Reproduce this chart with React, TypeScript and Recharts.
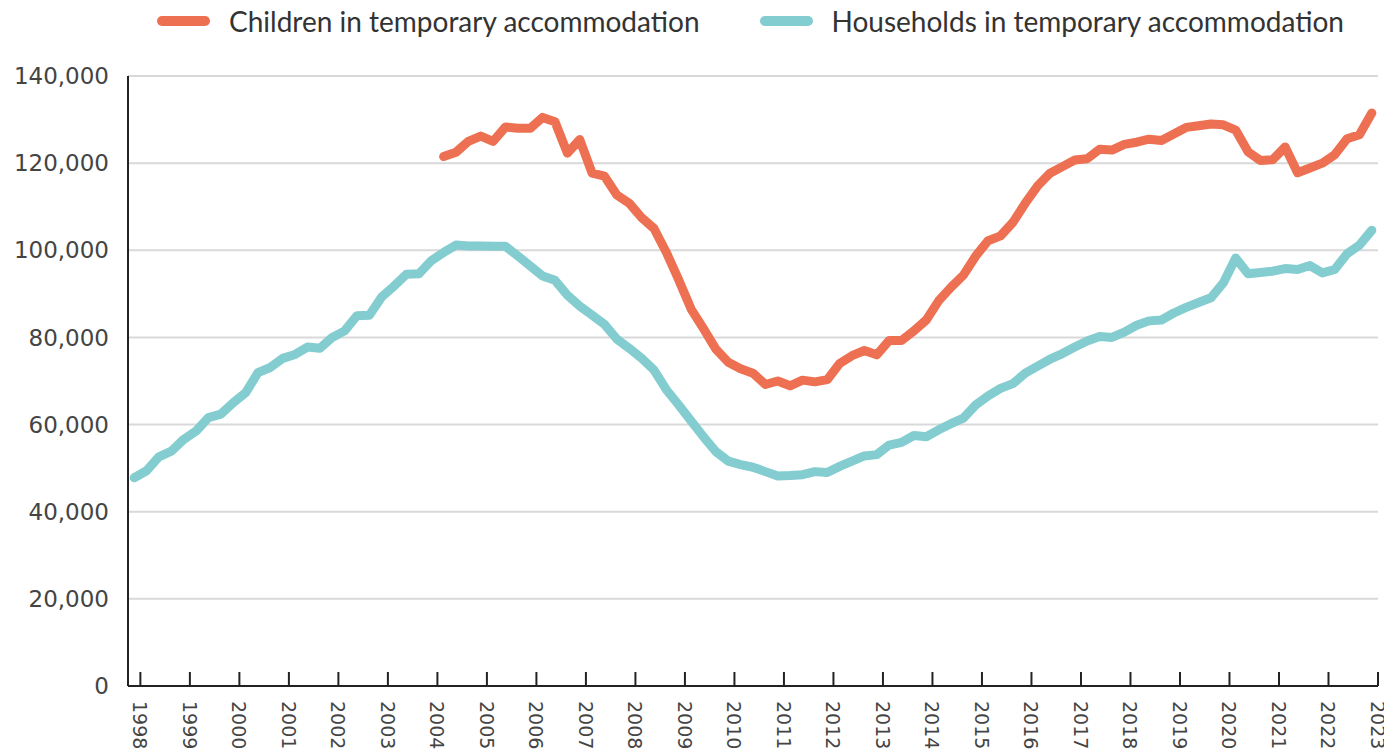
import { LineChart, Line, XAxis, YAxis, CartesianGrid } from "recharts";

// quarterly series, 1998 Q1 .. 2023 Q1 (values in thousands)
const YEARS = [
  1998, 1999, 2000, 2001, 2002, 2003, 2004, 2005, 2006, 2007, 2008, 2009, 2010,
  2011, 2012, 2013, 2014, 2015, 2016, 2017, 2018, 2019, 2020, 2021, 2022, 2023,
];

const HOUSEHOLDS = [
  47.8, 49.4, 52.6, 53.9, 56.6, 58.5, 61.6, 62.4, 65.0, 67.3, 71.9, 73.1, 75.2, 76.1, 77.8, 77.5,
  80.0, 81.5, 85.0, 85.1, 89.3, 91.8, 94.5, 94.6, 97.6, 99.5, 101.2, 101.0, 101.0, 100.9, 100.9, 98.7,
  96.4, 94.1, 93.1, 89.7, 87.2, 85.1, 83.0, 79.6, 77.5, 75.2, 72.5, 68.0, 64.5, 60.8, 57.2, 53.8,
  51.6, 50.8, 50.2, 49.2, 48.2, 48.3, 48.5, 49.2, 49.0, 50.4, 51.6, 52.8, 53.1, 55.3, 55.9, 57.5,
  57.2, 58.8, 60.2, 61.5, 64.5, 66.6, 68.3, 69.4, 71.8, 73.4, 75.0, 76.3, 77.8, 79.2, 80.2, 80.0,
  81.2, 82.8, 83.8, 84.0, 85.6, 86.9, 88.0, 89.1, 92.5, 98.2, 94.6, 94.9, 95.2, 95.8, 95.6, 96.5,
  94.8, 95.6, 99.2, 101.2, 104.6,
];

const CHILDREN = [
  null, null, null, null, null, null, null, null, null, null, null, null, null, null, null, null,
  null, null, null, null, null, null, null, null, null, 121.5, 122.5, 125.0, 126.2, 125.0, 128.3, 128.0,
  128.0, 130.5, 129.5, 122.3, 125.4, 117.7, 117.0, 112.7, 110.8, 107.5, 105.0, 99.5, 93.2, 86.5, 82.0, 77.3,
  74.3, 72.8, 71.8, 69.2, 70.0, 68.9, 70.2, 69.8, 70.3, 74.0, 75.8, 77.0, 76.0, 79.3, 79.3, 81.5,
  84.0, 88.4, 91.5, 94.3, 98.7, 102.2, 103.3, 106.4, 110.8, 114.8, 117.7, 119.2, 120.7, 121.0, 123.2, 123.0,
  124.3, 124.8, 125.5, 125.2, 126.7, 128.2, 128.6, 129.0, 128.8, 127.6, 122.6, 120.6, 120.8, 123.7, 117.8, 118.9,
  120.0, 121.9, 125.6, 126.5, 131.5,
];

const Y_TICKS = [0, 20000, 40000, 60000, 80000, 100000, 120000, 140000];

const ORANGE = "#ee7052";
const TEAL = "#83cccf";

const data = HOUSEHOLDS.map((h, i) => ({
  idx: i,
  quarter: `${YEARS[Math.floor(i / 4)]} Q${(i % 4) + 1}`,
  households: h * 1000,
  children: CHILDREN[i] == null ? null : (CHILDREN[i] as number) * 1000,
}));

// year ticks sit on the boundary after each year's first quarter
const X_TICKS = YEARS.map((_, k) => 0.5 + 4 * k);

const YearTick = (props: any) => {
  const { x, y, payload } = props;
  const label = YEARS[Math.round((payload.value - 0.5) / 4)];
  const ty = y + 15;
  return (
    <g>
      <line x1={x} x2={x} y1={y} y2={y - 14} stroke="#222" strokeWidth={2} />
      <text
        x={x}
        y={ty}
        transform={`rotate(90 ${x} ${ty})`}
        textAnchor="start"
        dominantBaseline="central"
        fontFamily="DejaVu Sans"
        fontSize={19}
        fill="#444"
      >
        {label}
      </text>
    </g>
  );
};

function LegendItem({ color, label }: { color: string; label: string }) {
  return (
    <div style={{ display: "flex", alignItems: "center" }}>
      <div style={{ width: 53, height: 10, borderRadius: 5, background: color, marginRight: 19 }} />
      <span style={{ fontFamily: "Lato", fontSize: 28, color: "#333", whiteSpace: "nowrap" }}>{label}</span>
    </div>
  );
}

export default function App() {
  return (
    <div style={{ position: "absolute", left: 0, top: 0, width: 1384, height: 753, background: "#fff" }}>
      <div style={{ position: "absolute", left: 157, top: 4, display: "flex", gap: 60 }}>
        <LegendItem color={ORANGE} label="Children in temporary accommodation" />
        <LegendItem color={TEAL} label="Households in temporary accommodation" />
      </div>
      <LineChart width={1384} height={753} data={data} margin={{ top: 76, right: 6, bottom: 0, left: 0 }}>
        <CartesianGrid vertical={false} stroke="#d9d9d9" strokeWidth={2} />
        <XAxis
          type="number"
          dataKey="idx"
          domain={[-0.5, 100.5]}
          ticks={X_TICKS}
          interval={0}
          height={67}
          tickSize={0}
          tickMargin={0}
          tickLine={false}
          axisLine={{ stroke: "#222", strokeWidth: 2 }}
          tick={<YearTick />}
        />
        <YAxis
          width={128}
          domain={[0, 140000]}
          ticks={Y_TICKS}
          interval={0}
          tickSize={0}
          tickMargin={19}
          tickLine={false}
          axisLine={{ stroke: "#222", strokeWidth: 2 }}
          tickFormatter={(v) => Number(v).toLocaleString("en-US")}
          tick={{ fontFamily: "DejaVu Sans", fontSize: 23, fill: "#444" }}
        />
        <Line
          dataKey="households"
          stroke={TEAL}
          strokeWidth={9}
          strokeLinejoin="round"
          strokeLinecap="round"
          dot={false}
          isAnimationActive={false}
        />
        <Line
          dataKey="children"
          stroke={ORANGE}
          strokeWidth={9}
          strokeLinejoin="round"
          strokeLinecap="round"
          dot={false}
          isAnimationActive={false}
        />
      </LineChart>
    </div>
  );
}
